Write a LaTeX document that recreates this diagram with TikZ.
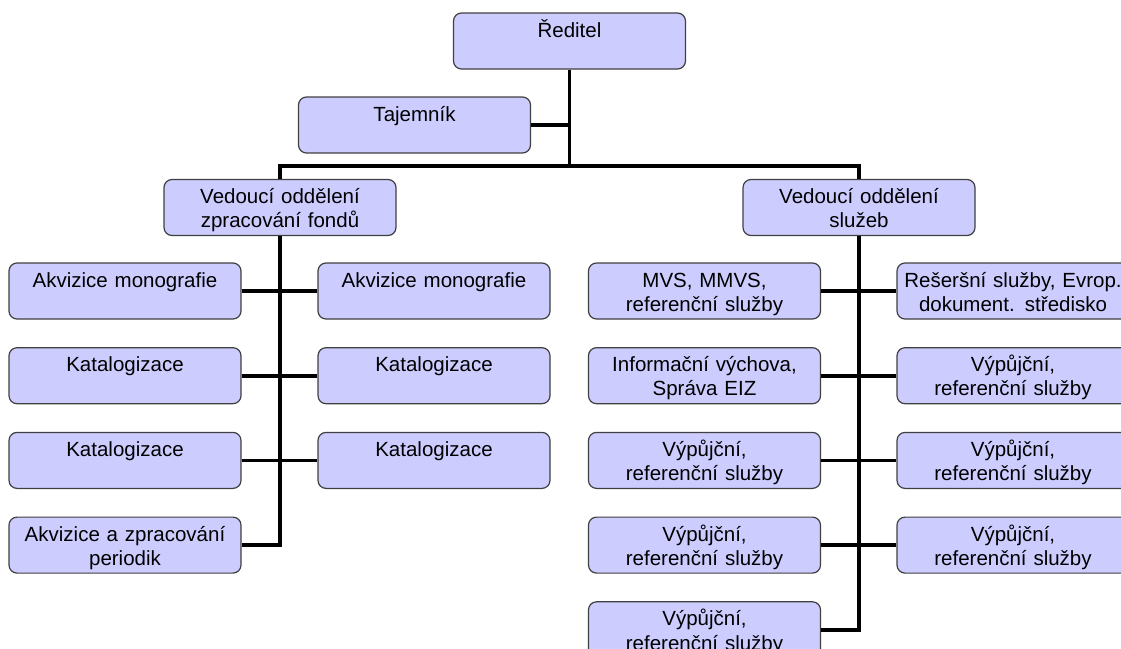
\documentclass[tikz,border=0pt]{standalone}
\usepackage{fontspec}
\setmainfont{Liberation Sans}
\usetikzlibrary{positioning}
\definecolor{boxfill}{HTML}{CCCCFF}
\tikzset{
        % Boxes of the chart
        unit/.style={draw=black!75, fill=boxfill, line width=1.2pt, rounded corners=8pt,
                text width=224pt, inner xsep=4pt, inner ysep=0pt, align=center,
                text height=24pt, text depth=32pt, font=\fontsize{20.5}{24.2}\selectfont},
        % Connecting lines
        link/.style={line width=3.6pt, black}
}

\begin{document}
\begin{tikzpicture}[x=1pt, y=-1pt, node distance=27.5pt]
    \useasboundingbox (0,0) rectangle (1121,648);
    \clip (0,0) rectangle (1121,648);

    % head
    \node[unit] (dir) at (569.5,41) {Ředitel};
    \node[unit] (taj) at (414.5,125) {Tajemník};
    \coordinate (hub) at (569.5,166);

    % departments
    \node[unit] (vzf) at (280,207.5) {Vedoucí oddělení\\zpracování fondů};
    \node[unit] (vsl) at (859,207.5) {Vedoucí oddělení\\služeb};

    % zpracovani fondu
    \node[unit] (zl1) at (125,291) {Akvizice monografie};
    \node[unit, below=of zl1] (zl2) {Katalogizace};
    \node[unit, below=of zl2] (zl3) {Katalogizace};
    \node[unit, below=of zl3] (zl4) {Akvizice a zpracování\\periodik};
    \node[unit] (zr1) at (434,291) {Akvizice monografie};
    \node[unit, below=of zr1] (zr2) {Katalogizace};
    \node[unit, below=of zr2] (zr3) {Katalogizace};

    % sluzby
    \node[unit] (sl1) at (704.5,291) {MVS, MMVS,\\referenční služby};
    \node[unit, below=of sl1] (sl2) {Informační výchova,\\Správa EIZ};
    \node[unit, below=of sl2] (sl3) {Výpůjční,\\referenční služby};
    \node[unit, below=of sl3] (sl4) {Výpůjční,\\referenční služby};
    \node[unit, below=of sl4] (sl5) {Výpůjční,\\referenční služby};
    \node[unit] (sr1) at (1013,291) {Rešeršní služby, Evrop.\\dokument. středisko};
    \node[unit, below=of sr1] (sr2) {Výpůjční,\\referenční služby};
    \node[unit, below=of sr2] (sr3) {Výpůjční,\\referenční služby};
    \node[unit, below=of sr3] (sr4) {Výpůjční,\\referenční služby};

    % lines
    \draw[link] (dir.south) -- (hub);
    \draw[link] (taj.east) -- (taj.east -| hub);
    \draw[link] (vzf.north) -- (vzf.north |- hub) -- (vsl.north |- hub) -- (vsl.north);

    \draw[link] (vzf.south) -- (vzf.south |- zl4.east) -- (zl4.east);
    \draw[link] (zl1.east) -- (zr1.west);
    \draw[link] (zl2.east) -- (zr2.west);
    \draw[link] (zl3.east) -- (zr3.west);

    \draw[link] (vsl.south) -- (vsl.south |- sl5.east) -- (sl5.east);
    \draw[link] (sl1.east) -- (sr1.west);
    \draw[link] (sl2.east) -- (sr2.west);
    \draw[link] (sl3.east) -- (sr3.west);
    \draw[link] (sl4.east) -- (sr4.west);
\end{tikzpicture}
\end{document}
